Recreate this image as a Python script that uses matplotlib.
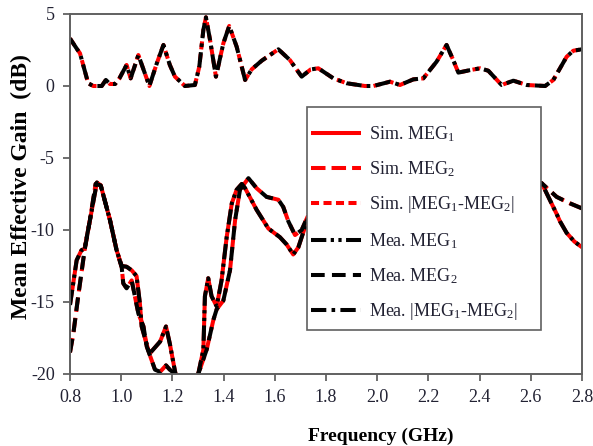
import matplotlib
matplotlib.use("Agg")
import matplotlib.pyplot as plt
from matplotlib.patches import Rectangle

plt.rcParams['font.family'] = ['Liberation Serif', 'DejaVu Serif']
plt.rcParams['mathtext.fontset'] = 'custom'
plt.rcParams['mathtext.rm'] = 'Liberation Serif'
plt.rcParams['mathtext.it'] = 'Liberation Serif:italic'
plt.rcParams['mathtext.bf'] = 'Liberation Serif:bold'

# ---- data ----
f_meg1 = [0.800, 0.826, 0.845, 0.857, 0.878, 0.905, 0.920, 0.956, 0.982, 1.002, 1.021,
          1.041, 1.060, 1.073, 1.080, 1.110, 1.152, 1.175, 1.190, 1.210, 1.250, 1.290,
          1.301, 1.321, 1.327, 1.340, 1.353, 1.373, 1.392, 1.412, 1.432, 1.451, 1.471,
          1.484, 1.529, 1.575, 1.620, 1.646, 1.672, 1.692, 1.718, 1.740, 1.800, 1.900,
          2.000, 2.100, 2.200, 2.300, 2.400, 2.500, 2.600, 2.643, 2.700, 2.714, 2.740,
          2.770, 2.800]
meg1 = [-15.2, -12.1, -11.4, -11.3, -9.3, -6.7, -6.9, -9.3, -11.4, -12.5, -12.55,
        -12.8, -13.2, -15.1, -16.7, -18.6, -17.75, -16.7, -17.9, -19.8, -23.0, -23.0,
        -20.0, -18.3, -14.6, -13.35, -14.6, -15.3, -13.5, -10.5, -8.15, -7.2, -6.8,
        -7.1, -8.6, -9.9, -10.5, -11.0, -11.7, -11.2, -9.8, -8.6, -8.3, -7.9,
        -7.6, -7.4, -7.2, -7.3, -7.1, -6.9, -6.8, -6.76, -8.85, -9.4, -10.2,
        -10.8, -11.2]

f_meg2 = [0.800, 0.813, 0.832, 0.857, 0.878, 0.900, 0.920, 0.956, 0.982, 1.002, 1.008,
          1.021, 1.041, 1.067, 1.087, 1.100, 1.132, 1.152, 1.175, 1.190, 1.210, 1.250,
          1.290, 1.301, 1.334, 1.360, 1.373, 1.399, 1.425, 1.445, 1.464, 1.497, 1.529,
          1.568, 1.614, 1.633, 1.653, 1.679, 1.705, 1.735, 1.800, 1.900, 2.000, 2.100,
          2.200, 2.300, 2.400, 2.500, 2.600, 2.643, 2.701, 2.753, 2.800]
meg2 = [-18.5, -17.2, -14.6, -11.4, -9.3, -6.8, -6.9, -9.3, -11.4, -12.6, -13.7,
        -14.05, -13.5, -15.8, -16.7, -18.1, -19.7, -19.85, -19.4, -19.7, -20.0, -23.0,
        -23.0, -20.0, -18.3, -16.25, -15.5, -14.9, -12.8, -9.3, -7.2, -6.4, -7.1,
        -7.7, -7.9, -8.4, -9.4, -10.35, -10.0, -8.8, -8.6, -8.1, -7.6, -7.7,
        -7.7, -7.4, -7.2, -7.0, -6.8, -6.76, -7.7, -8.15, -8.5]

f_diff = [0.800, 0.826, 0.839, 0.871, 0.891, 0.924, 0.940, 0.956, 0.976, 0.993, 1.021,
          1.037, 1.067, 1.110, 1.139, 1.165, 1.190, 1.210, 1.249, 1.288, 1.305, 1.321,
          1.331, 1.347, 1.370, 1.399, 1.422, 1.451, 1.484, 1.510, 1.549, 1.614, 1.659,
          1.705, 1.740, 1.770, 1.829, 1.881, 1.952, 1.985, 2.050, 2.089, 2.141, 2.180,
          2.232, 2.271, 2.297, 2.317, 2.362, 2.402, 2.434, 2.486, 2.532, 2.584, 2.656,
          2.688, 2.740, 2.766, 2.800]
diff = [3.3, 2.6, 2.27, 0.19, 0.0, 0.0, 0.42, 0.14, 0.14, 0.53, 1.46,
        0.53, 2.15, 0.0, 1.57, 2.85, 1.46, 0.65, 0.0, 0.07, 1.34, 3.9,
        4.77, 3.2, 0.65, 2.96, 4.17, 2.73, 0.42, 1.16, 1.76, 2.55, 1.8,
        0.65, 1.15, 1.23, 0.53, 0.19, 0.0, 0.0, 0.3, 0.07, 0.46, 0.53,
        1.69, 2.85, 1.8, 0.93, 1.1, 1.23, 1.06, 0.07, 0.37, 0.07, 0.0,
        0.42, 2.03, 2.45, 2.55]

x_ticks = [0.8, 1.0, 1.2, 1.4, 1.6, 1.8, 2.0, 2.2, 2.4, 2.6, 2.8]
y_ticks = [-20, -15, -10, -5, 0, 5]
labels = ["Sim. MEG$_1$", "Sim. MEG$_2$", "Sim. |MEG$_1$-MEG$_2$|",
          "Mea. MEG$_1$", "Mea. MEG$_2$", "Mea. |MEG$_1$-MEG$_2$|"]

# ---- figure ----
fig = plt.figure(figsize=(5.93, 4.46), dpi=100)
ax = fig.add_axes([70/593, 1-374/446, 512/593, 360/446])

lw = 2.9
red = '#ff0000'
h1, = ax.plot(f_meg1, meg1, color=red, lw=lw, solid_capstyle='butt', label=labels[0])
h2, = ax.plot(f_meg2, meg2, color=red, lw=lw, dashes=(3.6, 1.5), label=labels[1])
h3, = ax.plot(f_diff, diff, color=red, lw=lw, dashes=(2.0, 1.1), label=labels[2])
h4, = ax.plot(f_meg1, meg1, color='black', lw=lw, dashes=(3.8, 1.1, 0.8, 1.1, 0.8, 1.1), label=labels[3])
h5, = ax.plot(f_meg2, meg2, color='black', lw=lw, dashes=(3.4, 1.8), label=labels[4])
h6, = ax.plot(f_diff, diff, color='black', lw=lw, dashes=(3.8, 1.3, 0.9, 1.3), label=labels[5])

ax.set_xlim(0.8, 2.8)
ax.set_ylim(-20, 5)
ax.set_xticks(x_ticks)
ax.set_xticklabels([f"{t:.1f}" for t in x_ticks])
ax.set_yticks(y_ticks)
ax.set_yticklabels([str(t) for t in y_ticks])
ax.tick_params(direction='out', length=5, width=1.2, color='#555555',
               labelsize=13, labelcolor='#222233', pad=6)
for s in ax.spines.values():
    s.set_color('#606060')
    s.set_linewidth(1.4)

ax.set_xlabel("Frequency (GHz)", fontsize=14, fontweight='bold')
ax.xaxis.set_label_coords(0.607, -0.148)
ax.set_ylabel("Mean Effective Gain  (dB)", fontsize=17, fontweight='bold')
ax.yaxis.set_label_coords(-0.074, 0.52)

# legend box
rect = Rectangle((307/593, 1-330/446), 234/593, 223/446, transform=fig.transFigure,
                 facecolor='white', edgecolor='#606060', lw=1.2, zorder=15, clip_on=False)
ax.add_patch(rect)
leg = ax.legend(handles=[h1, h2, h3, h4, h5, h6], loc='upper left',
                bbox_to_anchor=(311/593, 1-124/446), bbox_transform=fig.transFigure,
                frameon=False, fontsize=13, handlelength=2.75, handletextpad=0.45,
                labelspacing=0.86, borderpad=0, borderaxespad=0)
leg.set_zorder(20)
for t in leg.get_texts():
    t.set_color('#222233')

fig.savefig("out.png", dpi=100)
